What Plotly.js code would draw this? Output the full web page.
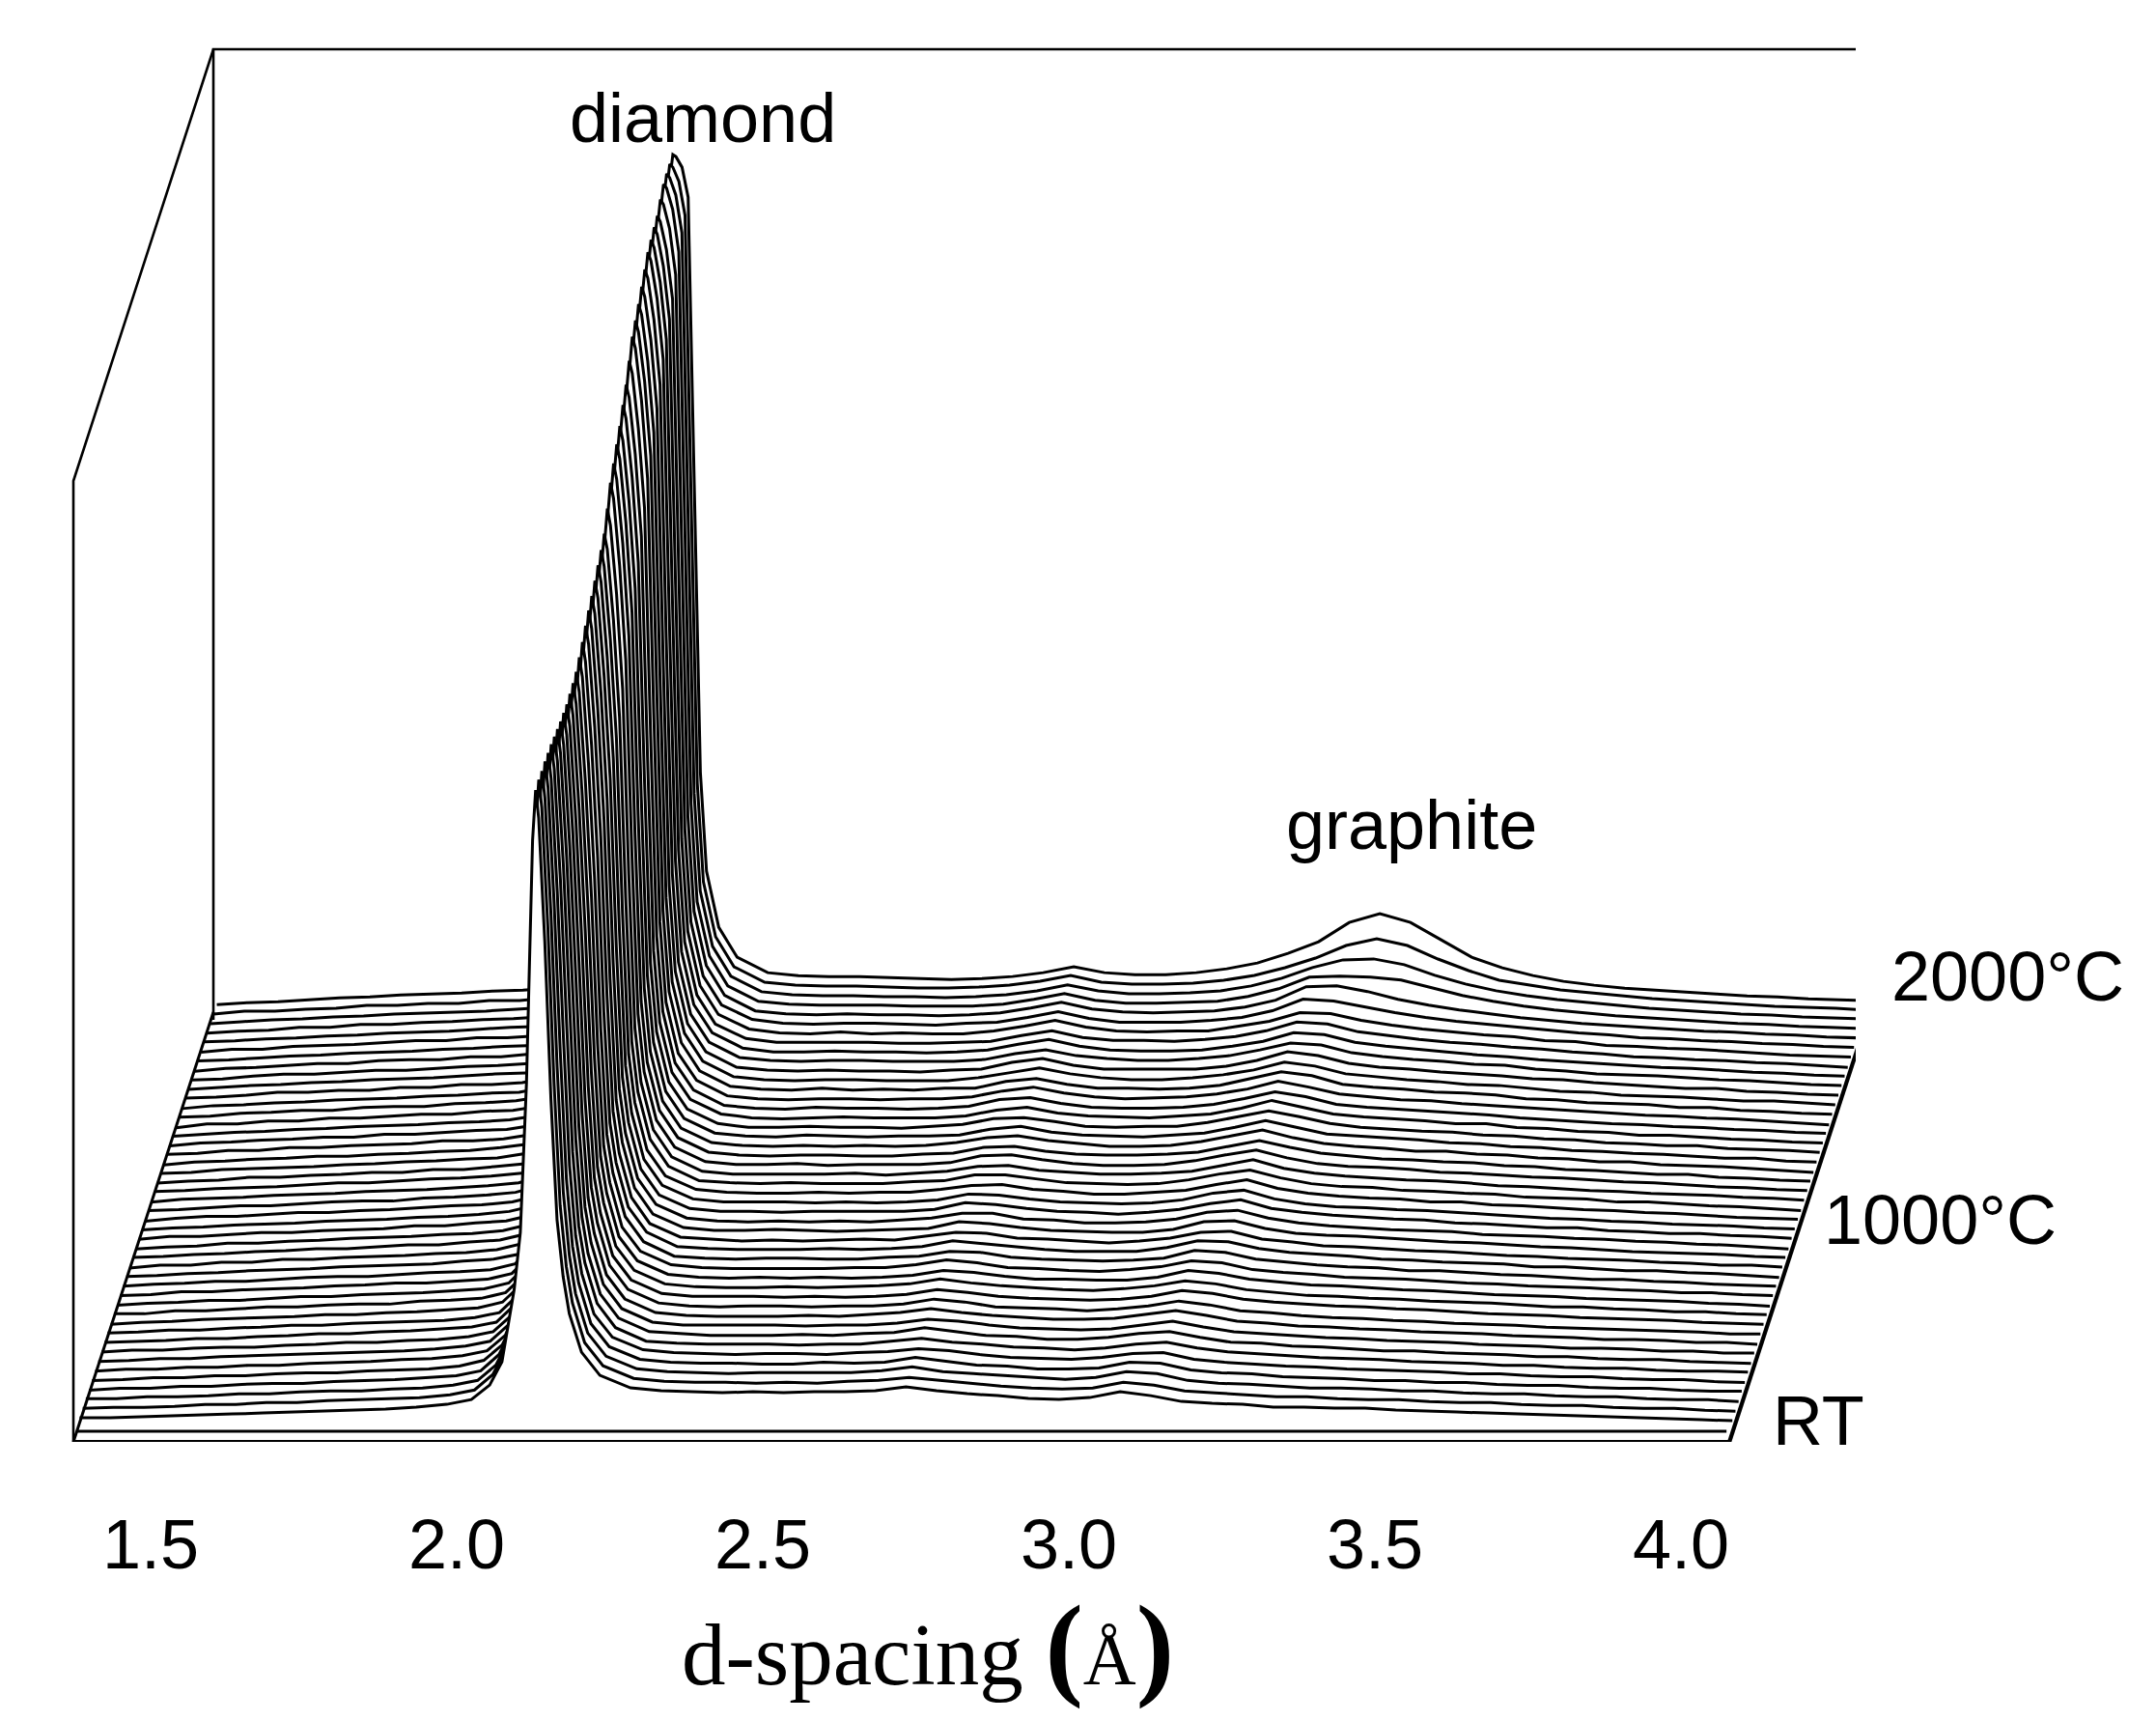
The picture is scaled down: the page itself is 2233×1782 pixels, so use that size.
<!DOCTYPE html>
<html><head><meta charset="utf-8">
<script src="https://cdn.plot.ly/plotly-3.0.1.min.js"></script>
<style>html,body{margin:0;padding:0;background:#fff}</style></head>
<body><div id="chart" style="width:2233px;height:1782px"></div>
<script>
// d-spacing sample positions shared by all diffraction patterns (angstrom)
const dSpacing=[1.30,1.35,1.40,1.45,1.50,1.55,1.60,1.65,1.70,1.75,1.80,1.85,1.90,1.94,1.97,1.99,2.01,2.02,2.03,2.04,2.045,2.05,2.06,2.07,2.08,2.09,2.10,2.12,2.15,2.20,2.25,2.30,2.35,2.40,2.45,2.50,2.55,2.60,2.65,2.70,2.75,2.80,2.85,2.90,2.95,3.00,3.05,3.10,3.15,3.20,3.25,3.30,3.35,3.40,3.45,3.50,3.55,3.60,3.65,3.70,3.75,3.80,3.85,3.90,3.95,4.00];
// intensity of each pattern, RT (P00) up to 2000 C (P44)
const P00=[4,4,5,6,7,8,9,10,11,12,13,15,18,23,38,62,137,196,350,602,654,625,497,334,209,150,112,72,48,35,32,31,30,31,30,31,31,32,36,32,29,27,24,23,25,31,27,21,19,18,15,15,14,14,12,11,10,9,8,7,6,5,4,3,2,1];
const P01=[4,5,5,6,8,8,10,10,12,13,14,15,18,23,39,63,139,200,354,603,655,626,501,341,214,151,113,72,48,35,32,31,31,30,31,30,32,33,36,33,30,27,25,24,25,31,28,22,20,18,16,16,14,13,13,11,10,10,8,7,7,5,4,4,2,1];
const P02=[4,4,6,6,7,9,9,11,12,12,14,15,18,23,39,64,140,202,358,603,654,626,504,347,218,152,113,72,48,35,32,31,30,31,31,31,31,33,37,32,30,28,26,24,26,32,30,23,20,19,17,15,15,14,12,12,10,9,9,7,6,6,4,3,3,1];
const P03=[3,5,5,7,7,9,10,10,12,13,14,16,18,23,40,65,141,205,362,604,654,627,507,353,222,152,114,72,48,35,32,31,31,30,30,32,31,32,37,33,29,28,25,25,26,32,31,24,21,20,17,16,15,13,13,11,11,9,8,8,6,5,5,3,2,2];
const P04=[3,4,6,6,8,8,10,11,11,13,14,15,18,24,40,66,142,208,365,604,653,626,509,359,226,153,114,72,48,35,32,31,30,31,31,30,32,33,36,34,30,27,26,25,27,31,32,25,22,20,18,17,15,14,13,12,10,10,8,7,7,5,4,4,2,1];
const P05=[3,5,5,7,7,9,9,11,12,13,15,16,19,24,40,67,143,211,368,604,652,626,512,365,230,153,115,73,48,34,32,31,31,31,30,31,31,34,37,33,31,28,27,25,27,31,33,27,23,21,19,17,16,15,13,12,11,9,9,7,6,6,4,3,3,2];
const P06=[3,4,6,6,8,9,10,11,12,13,14,16,19,24,41,69,144,213,371,603,650,625,514,371,233,153,115,73,48,34,32,30,30,30,31,30,32,33,38,34,30,29,26,26,28,32,34,28,23,22,19,18,16,14,14,12,11,10,8,8,6,5,5,3,2,1];
const P07=[3,5,5,7,8,8,10,11,13,13,15,16,19,24,41,70,145,215,374,601,648,623,516,376,237,153,116,73,48,34,31,31,31,31,30,31,31,33,37,35,31,28,27,26,27,31,35,29,24,22,20,18,17,15,14,13,11,10,9,7,7,6,4,4,2,2];
const P08=[3,4,5,7,7,9,10,12,12,14,15,17,19,24,42,71,146,217,377,600,646,622,517,381,241,153,116,73,48,34,31,30,30,30,31,30,32,34,38,34,31,29,27,27,28,32,36,31,25,23,20,19,17,16,14,13,12,10,9,8,6,6,5,3,3,1];
const P09=[3,4,6,6,8,9,11,11,13,14,15,16,19,24,42,72,147,220,380,600,645,622,520,387,244,154,117,73,48,34,31,30,31,31,30,31,31,33,38,35,30,29,28,26,28,31,36,32,26,24,21,19,18,16,15,13,12,11,9,8,7,6,5,4,2,2];
const P10=[2,4,5,7,8,9,10,12,12,14,15,17,19,25,43,73,148,222,383,600,644,621,522,393,249,154,117,73,48,34,31,31,31,30,31,30,31,33,38,35,31,29,28,27,28,31,37,34,28,25,23,21,20,18,17,15,13,12,11,9,8,7,6,4,3,2];
const P11=[3,3,6,6,8,10,10,12,13,13,16,17,19,25,43,74,150,226,388,601,645,623,526,400,253,155,118,73,48,34,31,30,30,31,30,31,32,34,39,35,32,30,28,27,29,32,37,34,28,25,22,21,19,18,16,15,14,12,10,10,8,7,5,5,3,2];
const P12=[2,4,5,7,7,9,11,11,13,14,15,17,19,25,44,75,152,229,392,603,646,625,530,407,258,156,118,73,48,34,31,30,31,30,31,30,31,33,38,36,32,29,29,28,28,31,38,35,29,26,23,22,20,18,17,15,13,12,11,9,8,7,6,4,3,1];
const P13=[2,3,6,6,8,9,10,12,13,15,15,17,19,25,44,76,154,233,397,606,648,627,535,415,263,157,119,73,48,34,31,30,30,30,30,31,31,34,39,36,31,30,28,27,29,32,38,36,29,26,24,21,20,19,17,15,14,12,11,10,8,7,5,5,3,2];
const P14=[2,4,5,7,7,9,11,12,12,14,16,17,19,25,45,77,156,238,404,611,653,633,543,424,269,159,119,74,48,33,31,30,31,31,30,30,32,33,38,37,32,30,29,28,29,31,39,37,30,27,24,22,21,18,18,16,14,13,11,9,9,7,6,4,3,2];
const P15=[2,3,5,6,8,9,10,12,13,14,15,18,20,25,45,79,159,243,412,617,659,639,552,435,276,161,120,74,48,33,31,30,30,30,31,30,31,33,39,36,33,30,28,28,28,32,39,38,31,27,25,23,20,19,17,16,15,12,12,10,8,8,6,5,3,1];
const P16=[1,4,4,7,7,10,10,12,13,14,16,17,20,26,46,80,162,248,420,625,666,647,561,446,284,163,120,74,47,33,31,29,30,29,30,31,30,34,38,37,32,31,29,27,29,32,38,39,31,28,24,23,21,19,18,16,14,13,11,10,9,7,6,4,4,2];
const P17=[2,3,5,6,8,9,11,11,13,15,15,18,20,26,46,81,165,253,428,631,672,653,569,457,290,165,121,74,47,33,30,30,31,30,29,30,31,32,39,37,33,30,29,28,28,31,39,40,32,27,25,24,22,20,18,17,15,13,12,10,8,7,6,5,3,2];
const P18=[1,3,4,7,7,9,10,12,13,14,16,17,20,26,47,82,167,259,435,636,677,659,577,467,297,167,121,74,47,33,30,29,30,29,30,29,31,33,38,38,32,31,28,28,29,32,39,41,33,28,25,23,21,20,19,16,15,14,12,11,9,8,6,5,3,1];
const P19=[1,4,4,6,8,8,10,11,12,15,15,18,20,26,47,83,170,264,443,643,683,665,585,478,304,169,122,74,47,33,30,30,29,30,30,30,30,32,39,37,33,30,29,27,29,32,38,42,33,29,26,24,22,21,18,17,15,13,13,10,9,7,7,5,4,2];
const P20=[1,3,4,6,7,8,10,11,12,14,15,17,20,26,48,84,173,269,452,650,689,672,594,489,311,171,122,74,47,33,30,30,30,29,30,29,30,32,38,37,33,30,29,28,29,32,39,42,33,28,25,24,22,21,19,17,15,13,12,10,9,7,6,5,3,2];
const P21=[0,3,5,5,7,9,9,11,12,14,16,17,20,26,48,85,176,275,459,656,695,678,603,500,318,173,123,74,47,33,30,29,29,30,29,30,30,33,37,38,33,31,28,28,30,32,38,43,34,29,26,24,23,20,20,17,16,14,12,11,9,8,6,4,3,2];
const P22=[1,2,4,6,6,8,10,11,11,14,15,17,20,27,49,86,179,281,469,663,702,686,613,512,326,176,124,75,47,32,30,29,30,29,29,29,31,32,38,38,34,30,29,28,29,33,39,43,35,29,26,25,22,21,19,18,15,14,13,10,10,8,6,5,3,1];
const P23=[0,3,4,5,7,8,9,11,12,13,15,17,20,27,49,87,185,291,484,679,718,701,630,531,339,180,124,75,47,32,29,29,29,29,30,28,30,32,37,38,33,31,29,29,30,32,38,44,35,30,27,25,23,22,20,17,16,14,12,11,9,8,7,5,4,2];
const P24=[1,2,4,5,6,8,10,10,12,14,15,17,20,27,50,88,190,301,499,696,735,719,649,551,351,185,125,75,47,32,29,29,30,28,29,29,29,31,38,39,34,30,28,28,29,33,39,44,36,30,27,26,24,21,20,18,16,15,13,11,10,8,6,5,3,2];
const P25=[0,2,3,6,6,8,9,11,11,14,14,17,20,27,50,89,194,308,511,706,745,729,662,566,361,188,125,75,47,32,29,28,29,29,28,28,30,31,37,38,33,30,29,29,30,32,38,44,37,31,28,25,24,22,21,18,17,14,13,11,9,9,6,5,3,2];
const P26=[0,1,4,5,6,7,9,10,12,13,15,16,21,27,51,91,199,316,522,717,755,740,674,581,371,192,126,75,47,32,29,28,29,28,29,28,29,32,37,39,34,31,28,28,29,33,39,45,37,31,28,26,23,23,20,19,16,15,12,12,9,8,7,5,3,1];
const P27=[-1,2,3,5,6,8,8,10,11,13,14,17,21,27,51,92,202,323,533,727,764,749,686,596,380,195,126,75,47,32,29,28,30,29,28,29,29,30,36,39,33,30,29,28,30,32,38,45,38,31,29,27,25,22,21,18,17,14,13,11,10,8,6,6,3,2];
const P28=[0,1,4,4,7,7,9,10,11,14,14,16,21,28,52,93,207,331,546,739,776,762,701,613,391,198,127,75,47,32,28,28,29,28,28,27,29,31,37,38,34,29,28,29,29,33,39,45,39,32,28,26,24,23,20,19,16,15,12,11,9,9,6,5,4,2];
const P29=[-1,2,3,5,6,8,8,11,11,13,15,16,21,28,52,94,212,340,559,750,787,774,715,630,402,201,127,75,47,32,28,27,28,29,28,28,28,30,36,39,33,30,29,28,30,32,38,46,39,32,29,27,25,22,22,18,17,14,13,10,10,8,6,5,3,2];
const P30=[-1,1,3,4,6,7,9,10,11,13,14,16,21,28,53,95,217,350,574,765,802,789,732,650,415,206,128,75,47,31,28,27,29,28,28,27,28,30,37,39,33,29,28,28,29,32,38,45,40,32,29,27,25,23,21,18,16,14,12,11,9,8,6,5,3,2];
const P31=[-2,2,2,5,5,8,8,10,12,12,15,16,21,28,53,96,223,360,590,780,817,805,751,670,428,211,128,75,47,31,28,27,28,28,27,28,28,30,36,40,34,30,28,29,30,33,38,46,40,33,30,27,26,23,21,19,17,15,13,11,10,8,7,5,3,1];
const P32=[-1,0,3,4,6,6,9,10,10,13,14,16,21,28,54,97,227,367,600,788,824,812,761,684,438,213,129,76,47,31,28,27,29,27,28,27,29,29,36,39,33,29,29,28,29,32,39,46,42,33,30,28,25,24,22,18,17,14,13,12,9,9,6,5,3,2];
const P33=[-2,1,2,4,5,7,8,9,11,12,14,15,21,28,54,98,231,374,610,796,831,820,772,698,447,216,129,76,47,31,28,27,28,28,27,27,27,30,35,40,34,30,28,28,30,33,38,46,42,34,31,28,26,23,22,19,16,15,12,11,10,8,6,6,4,2];
const P34=[-1,0,2,5,5,7,7,10,10,13,13,15,21,28,55,99,235,382,621,805,839,829,784,713,456,219,130,76,47,31,28,27,28,27,27,26,28,29,36,40,33,29,29,29,29,32,38,47,43,35,31,29,26,24,22,19,18,15,13,11,9,9,6,5,3,2];
const P35=[-2,0,2,3,5,6,8,9,10,12,14,15,21,28,55,100,239,389,632,813,847,838,795,728,466,222,130,76,47,31,28,27,28,28,27,27,27,29,35,39,33,30,28,28,30,33,39,46,44,36,32,29,27,24,23,19,17,14,13,12,10,8,7,5,3,2];
const P36=[-2,-1,2,4,4,6,8,8,10,12,13,15,22,29,56,101,243,397,643,822,855,846,807,744,476,225,131,76,47,31,27,27,28,27,27,26,27,29,35,40,33,29,28,28,29,33,38,47,45,37,33,30,27,24,22,19,17,15,13,11,10,8,6,5,3,2];
const P37=[-3,0,1,3,5,5,8,9,9,12,12,15,22,29,56,103,245,402,650,825,858,850,814,755,484,226,131,76,46,31,27,27,27,27,26,26,27,28,34,39,32,29,29,28,30,33,39,48,46,38,34,30,27,25,22,20,17,15,12,11,9,8,6,5,3,1];
const P38=[-2,-1,1,3,4,6,7,8,10,11,13,14,22,29,57,104,248,407,658,829,861,854,821,766,491,228,132,76,46,31,27,26,28,26,27,26,26,29,34,40,33,29,28,29,29,34,39,48,47,40,35,31,28,25,23,19,18,14,13,11,10,8,6,4,3,2];
const P39=[-3,0,0,3,4,5,7,9,9,12,12,14,22,29,57,105,250,412,665,832,863,857,828,777,498,229,132,76,46,31,27,26,27,27,26,25,27,28,33,39,32,28,28,28,30,33,40,52,50,44,38,33,29,26,23,20,17,15,12,11,9,8,6,5,3,2];
const P40=[-2,-1,1,2,4,5,7,8,9,11,13,14,22,29,58,106,254,419,675,840,870,865,840,792,508,231,133,77,46,30,27,26,27,26,26,25,26,28,33,39,32,29,28,29,30,34,41,55,56,50,42,36,31,27,23,20,17,15,13,11,9,8,6,5,3,2];
const P41=[-3,-1,0,3,3,6,6,8,9,11,12,14,22,30,58,107,258,426,685,847,876,872,850,806,517,234,133,77,46,30,27,26,26,26,25,25,25,27,32,38,31,28,28,29,30,35,43,55,56,55,52,44,36,30,25,21,18,15,13,11,9,7,6,4,3,2];
const P42=[-3,-1,1,2,4,5,7,8,9,10,12,14,22,30,59,108,260,431,691,849,877,873,855,816,524,235,134,77,46,30,27,26,26,25,25,24,25,27,31,37,31,28,28,29,31,36,44,55,63,64,58,47,38,31,26,22,19,16,13,11,9,7,6,4,3,2];
const P43=[-3,0,0,2,3,6,6,8,8,11,11,14,22,30,59,109,261,434,696,850,877,874,859,824,529,236,134,77,46,30,27,26,26,25,24,24,25,27,31,37,30,28,28,29,32,37,45,55,68,75,68,54,42,32,27,22,19,16,13,11,9,7,5,4,3,1];
const P44=[-3,-1,0,2,4,5,7,8,9,11,12,14,22,30,60,110,263,439,702,851,877,875,864,833,535,237,135,77,46,30,27,26,26,25,24,23,24,26,30,36,30,28,28,30,34,40,50,62,82,91,82,64,46,35,27,21,17,14,12,10,8,6,5,3,2,1];
const patterns=[P00,P01,P02,P03,P04,P05,P06,P07,P08,P09,P10,P11,P12,P13,P14,P15,P16,P17,P18,P19,P20,P21,P22,P23,P24,P25,P26,P27,P28,P29,P30,P31,P32,P33,P34,P35,P36,P37,P38,P39,P40,P41,P42,P43,P44];
const majorTicks=[1.5,2.0,2.5,3.0,3.5,4.0];
const minorTicks=[1.75,2.25,2.75,3.25,3.75];
const tickLabels=['1.5','2.0','2.5','3.0','3.5','4.0'];

// page geometry of the pseudo-3D waterfall
const pxPerA=634, tick15=203, axisY=1493, plotW=1922;
const stepY=9.886, stepX=3.23/pxPerA, baseY=11, baseX=3/pxPerA;
const depthX=145/pxPerA, depthY=445, xMin=1.2997, xMax=4.005;

const xRange=[1.5-tick15/pxPerA, 1.5+(plotW-tick15)/pxPerA];
const traces=[];
function seg(xs,ys,w){traces.push({x:xs,y:ys,mode:'lines',line:{color:'#000',width:w,simplify:false},cliponaxis:false,hoverinfo:'skip',showlegend:false});}

// back frame
seg([xMin+depthX,xMin+depthX,xMax+depthX,xMax+depthX],[depthY-8,1442,1442,depthY],2.6);
seg([xMin,xMin,xMin+depthX],[0,995,1442],2.6);
seg([xMin,xMin+depthX],[0,depthY],3);
seg([xMin+3/pxPerA,xMax-3/pxPerA],[11,11],3);

// patterns, rear first, white fill hides the ones behind
for(let i=patterns.length-1;i>=0;i--){
  const sx=baseX+(i+1)*stepX, sy=baseY+(i+1)*stepY;
  traces.push({x:dSpacing.map(d=>d+sx),y:patterns[i].map(v=>v+sy),mode:'lines',fill:'toself',fillcolor:'#fff',
    line:{color:'#000',width:3,simplify:false},cliponaxis:false,hoverinfo:'skip',showlegend:false,name:'pattern '+i});
}
// front axis and slanted depth axis
seg([xMin,xMax],[0,0],4.2);
seg([xMax,xMax+depthX],[0,depthY],4.2);
for(const t of majorTicks) seg([t,t-9/pxPerA],[-2,-25],4);
for(const t of minorTicks) seg([t,t-4/pxPerA],[-2,-13],3.5);

const sans='Liberation Sans, Arial, sans-serif';
const note=(text,px,py,xa)=>({text,xref:'paper',yref:'paper',x:px/plotW,y:(axisY-py)/axisY,xanchor:xa,yanchor:'middle',showarrow:false,font:{family:sans,size:72,color:'#000'}});
const layout={width:2233,height:1782,autosize:false,margin:{l:0,r:2233-plotW,t:0,b:1782-axisY,pad:0},paper_bgcolor:'#fff',plot_bgcolor:'#fff',showlegend:false,hovermode:false,
  xaxis:{range:xRange,showgrid:false,zeroline:false,showline:false,ticks:'',tickmode:'array',tickvals:majorTicks,ticktext:tickLabels,ticklabelshift:-47,ticklabelstandoff:58,
    tickfont:{family:sans,size:72,color:'#000'},automargin:false,
    title:{text:'d-spacing <span style="font-weight:bold;font-size:118px">(</span><span style="font-family:Liberation Sans Narrow;font-size:76px">Å</span><span style="font-weight:bold;font-size:118px">)</span>',font:{family:'Liberation Serif, Times New Roman, serif',size:91,color:'#000'},standoff:24}},
  yaxis:{range:[0,axisY],visible:false,showgrid:false,zeroline:false},
  annotations:[note('diamond',728,122,'center'),note('graphite',1462,854,'center'),note('2000°C',1957,1011,'left'),note('1000°C',1887,1263,'left'),note('RT',1834,1471,'left')]};
Plotly.newPlot('chart',traces,layout,{displayModeBar:false,staticPlot:true});
</script></body></html>
